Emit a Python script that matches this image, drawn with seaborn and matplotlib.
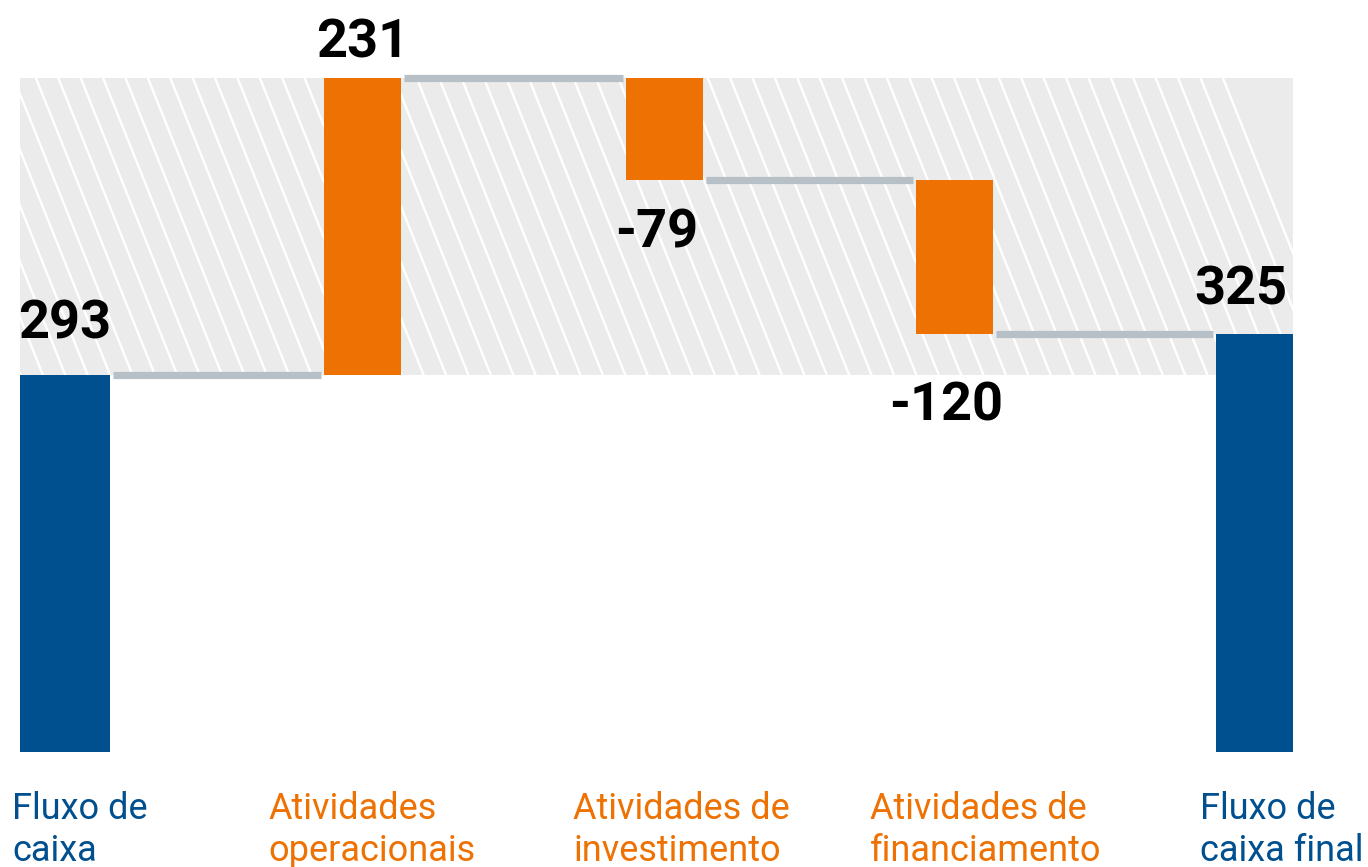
import numpy as np
import matplotlib
matplotlib.use("Agg")
import matplotlib.pyplot as plt
from matplotlib.patches import Rectangle
from matplotlib.transforms import blended_transform_factory
import seaborn as sns

# data
categories = ["Fluxo de\ncaixa", "Atividades\noperacionais", "Atividades de\ninvestimento",
              "Atividades de\nfinanciamento", "Fluxo de\ncaixa final"]
values = [293, 231, -79, -120, 325]
kinds = ["total", "delta", "delta", "delta", "total"]

# colours / styling
BLUE = "#00508F"
ORANGE = "#EE7203"
CONNECTOR = "#B7BFC7"
BAND = "#EBEBEB"
bar_colors = [BLUE if k == "total" else ORANGE for k in kinds]
bar_widths = [0.303, 0.259, 0.259, 0.259, 0.259]
bar_nudge = [0, 0, 0.017, -0.01, 0]
label_dx = [-0.178, -0.317, -0.292, -0.293, -0.184]   # left edge of category text
value_off = [(0, 37), (0, 21), (-8, -68), (-8, -86), (-14, 30)]  # pixels from bar edge

# waterfall geometry from the values
bottoms, heights, levels = [], [], []
running = 0
for v, k in zip(values, kinds):
    if k == "total":
        bottoms.append(0)
        heights.append(v)
        running = v
    else:
        bottoms.append(min(running, running + v))
        heights.append(abs(v))
        running += v
    levels.append(running)

sns.set_theme(style="white")
plt.rcParams["font.family"] = ["Roboto", "DejaVu Sans"]

fig = plt.figure(figsize=(13.68, 8.67), dpi=100)
ax = fig.add_axes([0, 0.1326, 1, 0.8674])

sns.barplot(x=categories, y=heights, hue=categories, palette=bar_colors,
            saturation=1, legend=False, ax=ax, zorder=3, linewidth=0)
bars = list(ax.patches)
centers = []
for i, p in enumerate(bars):
    c = i + bar_nudge[i]
    centers.append(c)
    p.set_y(bottoms[i])
    p.set_width(bar_widths[i])
    p.set_x(c - bar_widths[i] / 2)

ax.set_xlim(-0.2186, 4.381)
ax.set_ylim(0, 585)
ax.axis("off")

# hatched band between the opening balance and the peak
band_left = centers[0] - bar_widths[0] / 2
band_right = centers[-1] + bar_widths[-1] / 2
band_lo, band_hi = values[0], max(levels)
band = Rectangle((band_left, band_lo), band_right - band_left, band_hi - band_lo,
                 facecolor=BAND, edgecolor="none", zorder=0)
ax.add_patch(band)
shift = 0.40
for x0 in np.arange(band_left - 1.0, 3.91, 0.0753):
    ln, = ax.plot([x0, x0 + shift], [band_hi, band_lo], color="white", lw=1.7, zorder=1)
    ln.set_clip_path(band)

# connectors
gap = 0.01
for i in range(len(values) - 1):
    x_start = centers[i] + bar_widths[i] / 2 + gap
    x_end = centers[i + 1] - bar_widths[i + 1] / 2 - gap
    ax.plot([x_start, x_end], [levels[i], levels[i]], color=CONNECTOR, lw=5.2,
            solid_capstyle="butt", zorder=2)

# value labels
for i, v in enumerate(values):
    anchor = bottoms[i] + heights[i] if v >= 0 else bottoms[i]
    ax.annotate(f"{v}", xy=(centers[i], anchor), xytext=value_off[i],
                textcoords="offset pixels", ha="center", va="baseline",
                fontsize=39, fontweight="bold", color="black", zorder=5)

# category labels
trans = blended_transform_factory(ax.transData, fig.transFigure)
for i, lab in enumerate(categories):
    ax.text(i + label_dx[i], 0.088, lab, transform=trans, ha="left", va="top",
            fontsize=26, color=bar_colors[i], linespacing=1.22)

fig.savefig("out.png", dpi=100)
